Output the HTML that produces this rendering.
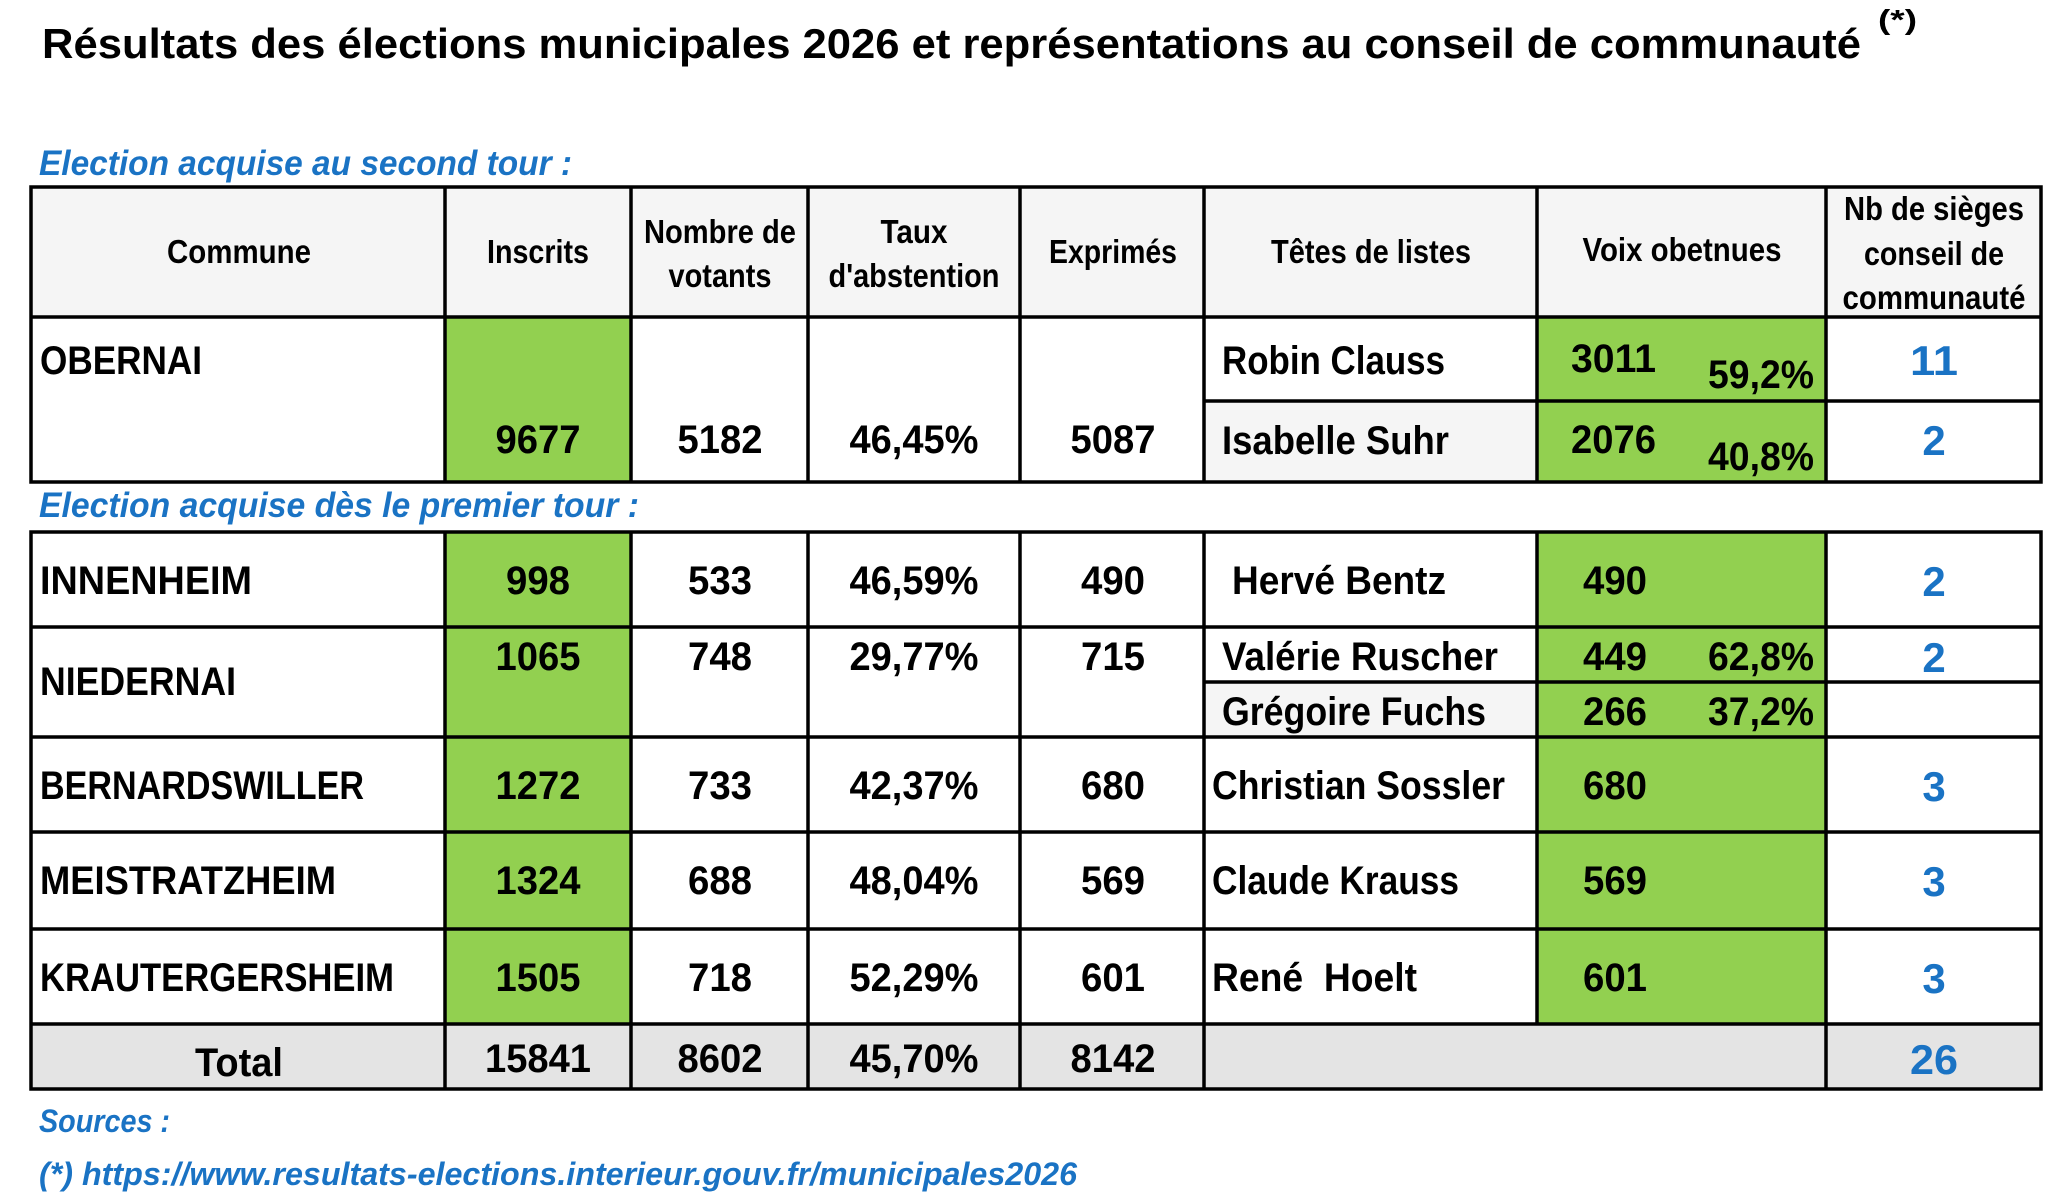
<!DOCTYPE html>
<html><head><meta charset="utf-8"><style>
html,body{margin:0;padding:0;background:#fff}
svg{display:block}
text{font-family:"Liberation Sans",sans-serif;font-weight:bold;fill:#000}
.d{font-size:40px}
.h{font-size:33px}
.b{fill:#1a73c4;font-style:italic;font-size:35px}
.s{fill:#1a73c4;font-size:42px}
</style></head><body>
<svg width="2048" height="1203" viewBox="0 0 2048 1203" xmlns="http://www.w3.org/2000/svg">
<rect width="2048" height="1203" fill="#fff"/>
<text x="42" y="58" style="font-size:42px" textLength="1819" lengthAdjust="spacingAndGlyphs">Résultats des élections municipales  2026 et représentations au conseil de communauté</text>
<text x="1878" y="29" style="font-size:28px" textLength="39" lengthAdjust="spacingAndGlyphs">(*)</text>
<text class="b" x="39" y="175" textLength="533" lengthAdjust="spacingAndGlyphs">Election acquise au second tour :</text>
<text class="b" x="39" y="517" textLength="600" lengthAdjust="spacingAndGlyphs">Election acquise dès le premier tour :</text>

<rect x="31" y="187" width="2010" height="130" fill="#f5f5f5"/>
<rect x="445" y="317" width="186" height="165" fill="#92d050"/>
<rect x="1204" y="401" width="333" height="81" fill="#f5f5f5"/>
<rect x="1537" y="317" width="289" height="165" fill="#92d050"/>
<rect x="445" y="532" width="186" height="492" fill="#92d050"/>
<rect x="1537" y="532" width="289" height="492" fill="#92d050"/>
<rect x="1204" y="682" width="333" height="55" fill="#f5f5f5"/>
<rect x="31" y="1024" width="2010" height="65" fill="#e4e4e4"/>

<g stroke="#000" stroke-width="3.5" fill="none">
<rect x="31" y="187" width="2010" height="295"/>
<line x1="31" y1="317" x2="2041" y2="317"/>
<line x1="1204" y1="401" x2="2041" y2="401"/>
<path d="M445 187V482M631 187V482M808 187V482M1020 187V482M1204 187V482M1537 187V482M1826 187V482"/>
<rect x="31" y="532" width="2010" height="557"/>
<path d="M31 627H2041M31 737H2041M31 832H2041M31 929H2041M31 1024H2041M1204 682H2041"/>
<path d="M445 532V1089M631 532V1089M808 532V1089M1020 532V1089M1204 532V1089M1537 532V1024M1826 532V1089"/>
</g>

<g text-anchor="middle">
<text class="h" x="239" y="263" textLength="144" lengthAdjust="spacingAndGlyphs">Commune</text>
<text class="h" x="538" y="263" textLength="102" lengthAdjust="spacingAndGlyphs">Inscrits</text>
<text class="h" x="720" y="243" textLength="152" lengthAdjust="spacingAndGlyphs">Nombre de</text>
<text class="h" x="720" y="287" textLength="103" lengthAdjust="spacingAndGlyphs">votants</text>
<text class="h" x="914" y="243" textLength="67" lengthAdjust="spacingAndGlyphs">Taux</text>
<text class="h" x="914" y="287" textLength="171" lengthAdjust="spacingAndGlyphs">d'abstention</text>
<text class="h" x="1113" y="263" textLength="128" lengthAdjust="spacingAndGlyphs">Exprimés</text>
<text class="h" x="1371" y="263" textLength="200" lengthAdjust="spacingAndGlyphs">Têtes de listes</text>
<text class="h" x="1682" y="261" textLength="199" lengthAdjust="spacingAndGlyphs">Voix obetnues</text>
<text class="h" x="1934" y="220" textLength="180" lengthAdjust="spacingAndGlyphs">Nb de sièges</text>
<text class="h" x="1934" y="265" textLength="140" lengthAdjust="spacingAndGlyphs">conseil de</text>
<text class="h" x="1934" y="309" textLength="183" lengthAdjust="spacingAndGlyphs">communauté</text>
</g>

<g>
<text class="d" x="40" y="374" textLength="162" lengthAdjust="spacingAndGlyphs">OBERNAI</text>
<text class="d" x="1222" y="374" textLength="223" lengthAdjust="spacingAndGlyphs">Robin Clauss</text>
<text class="d" x="1222" y="454" textLength="227" lengthAdjust="spacingAndGlyphs">Isabelle Suhr</text>
<text class="d" x="1571" y="372" textLength="85" lengthAdjust="spacingAndGlyphs">3011</text>
<text class="d" x="1708" y="388" textLength="106" lengthAdjust="spacingAndGlyphs">59,2%</text>
<text class="d" x="1571" y="453" textLength="85" lengthAdjust="spacingAndGlyphs">2076</text>
<text class="d" x="1708" y="470" textLength="106" lengthAdjust="spacingAndGlyphs">40,8%</text>

<text class="d" x="40" y="594" textLength="212" lengthAdjust="spacingAndGlyphs">INNENHEIM</text>
<text class="d" x="40" y="695" textLength="196" lengthAdjust="spacingAndGlyphs">NIEDERNAI</text>
<text class="d" x="40" y="799" textLength="324" lengthAdjust="spacingAndGlyphs">BERNARDSWILLER</text>
<text class="d" x="40" y="894" textLength="296" lengthAdjust="spacingAndGlyphs">MEISTRATZHEIM</text>
<text class="d" x="40" y="991" textLength="354" lengthAdjust="spacingAndGlyphs">KRAUTERGERSHEIM</text>

<text class="d" x="1232" y="594" textLength="214" lengthAdjust="spacingAndGlyphs">Hervé Bentz</text>
<text class="d" x="1222" y="670" textLength="276" lengthAdjust="spacingAndGlyphs">Valérie Ruscher</text>
<text class="d" x="1222" y="725" textLength="264" lengthAdjust="spacingAndGlyphs">Grégoire Fuchs</text>
<text class="d" x="1212" y="799" textLength="293" lengthAdjust="spacingAndGlyphs">Christian Sossler</text>
<text class="d" x="1212" y="894" textLength="247" lengthAdjust="spacingAndGlyphs">Claude Krauss</text>
<text class="d" x="1212" y="991" textLength="205" lengthAdjust="spacingAndGlyphs">René&#160; Hoelt</text>

<text class="d" x="1583" y="594" textLength="64" lengthAdjust="spacingAndGlyphs">490</text>
<text class="d" x="1583" y="670" textLength="64" lengthAdjust="spacingAndGlyphs">449</text>
<text class="d" x="1708" y="670" textLength="106" lengthAdjust="spacingAndGlyphs">62,8%</text>
<text class="d" x="1583" y="725" textLength="64" lengthAdjust="spacingAndGlyphs">266</text>
<text class="d" x="1708" y="725" textLength="106" lengthAdjust="spacingAndGlyphs">37,2%</text>
<text class="d" x="1583" y="799" textLength="64" lengthAdjust="spacingAndGlyphs">680</text>
<text class="d" x="1583" y="894" textLength="64" lengthAdjust="spacingAndGlyphs">569</text>
<text class="d" x="1583" y="991" textLength="64" lengthAdjust="spacingAndGlyphs">601</text>
</g>

<g text-anchor="middle">
<text class="d" x="538" y="453" textLength="85" lengthAdjust="spacingAndGlyphs">9677</text>
<text class="d" x="720" y="453" textLength="85" lengthAdjust="spacingAndGlyphs">5182</text>
<text class="d" x="914" y="453" textLength="129" lengthAdjust="spacingAndGlyphs">46,45%</text>
<text class="d" x="1113" y="453" textLength="85" lengthAdjust="spacingAndGlyphs">5087</text>

<text class="d" x="538" y="594" textLength="64" lengthAdjust="spacingAndGlyphs">998</text>
<text class="d" x="720" y="594" textLength="64" lengthAdjust="spacingAndGlyphs">533</text>
<text class="d" x="914" y="594" textLength="129" lengthAdjust="spacingAndGlyphs">46,59%</text>
<text class="d" x="1113" y="594" textLength="64" lengthAdjust="spacingAndGlyphs">490</text>

<text class="d" x="538" y="670" textLength="85" lengthAdjust="spacingAndGlyphs">1065</text>
<text class="d" x="720" y="670" textLength="64" lengthAdjust="spacingAndGlyphs">748</text>
<text class="d" x="914" y="670" textLength="129" lengthAdjust="spacingAndGlyphs">29,77%</text>
<text class="d" x="1113" y="670" textLength="64" lengthAdjust="spacingAndGlyphs">715</text>

<text class="d" x="538" y="799" textLength="85" lengthAdjust="spacingAndGlyphs">1272</text>
<text class="d" x="720" y="799" textLength="64" lengthAdjust="spacingAndGlyphs">733</text>
<text class="d" x="914" y="799" textLength="129" lengthAdjust="spacingAndGlyphs">42,37%</text>
<text class="d" x="1113" y="799" textLength="64" lengthAdjust="spacingAndGlyphs">680</text>

<text class="d" x="538" y="894" textLength="85" lengthAdjust="spacingAndGlyphs">1324</text>
<text class="d" x="720" y="894" textLength="64" lengthAdjust="spacingAndGlyphs">688</text>
<text class="d" x="914" y="894" textLength="129" lengthAdjust="spacingAndGlyphs">48,04%</text>
<text class="d" x="1113" y="894" textLength="64" lengthAdjust="spacingAndGlyphs">569</text>

<text class="d" x="538" y="991" textLength="85" lengthAdjust="spacingAndGlyphs">1505</text>
<text class="d" x="720" y="991" textLength="64" lengthAdjust="spacingAndGlyphs">718</text>
<text class="d" x="914" y="991" textLength="129" lengthAdjust="spacingAndGlyphs">52,29%</text>
<text class="d" x="1113" y="991" textLength="64" lengthAdjust="spacingAndGlyphs">601</text>

<text class="d" x="239" y="1076" textLength="88" lengthAdjust="spacingAndGlyphs">Total</text>
<text class="d" x="538" y="1072" textLength="106" lengthAdjust="spacingAndGlyphs">15841</text>
<text class="d" x="720" y="1072" textLength="85" lengthAdjust="spacingAndGlyphs">8602</text>
<text class="d" x="914" y="1072" textLength="129" lengthAdjust="spacingAndGlyphs">45,70%</text>
<text class="d" x="1113" y="1072" textLength="85" lengthAdjust="spacingAndGlyphs">8142</text>

<text class="s" x="1934" y="375" textLength="48" lengthAdjust="spacingAndGlyphs">11</text>
<text class="s" x="1934" y="455">2</text>
<text class="s" x="1934" y="596">2</text>
<text class="s" x="1934" y="672">2</text>
<text class="s" x="1934" y="801">3</text>
<text class="s" x="1934" y="896">3</text>
<text class="s" x="1934" y="993">3</text>
<text class="s" x="1934" y="1074" textLength="48" lengthAdjust="spacingAndGlyphs">26</text>
</g>

<text class="b" x="39" y="1132" style="font-size:32px" textLength="131" lengthAdjust="spacingAndGlyphs">Sources :</text>
<text class="b" x="39" y="1185" style="font-size:32px" textLength="1038" lengthAdjust="spacingAndGlyphs">(*) https://www.resultats-elections.interieur.gouv.fr/municipales2026</text>
</svg>
</body></html>
